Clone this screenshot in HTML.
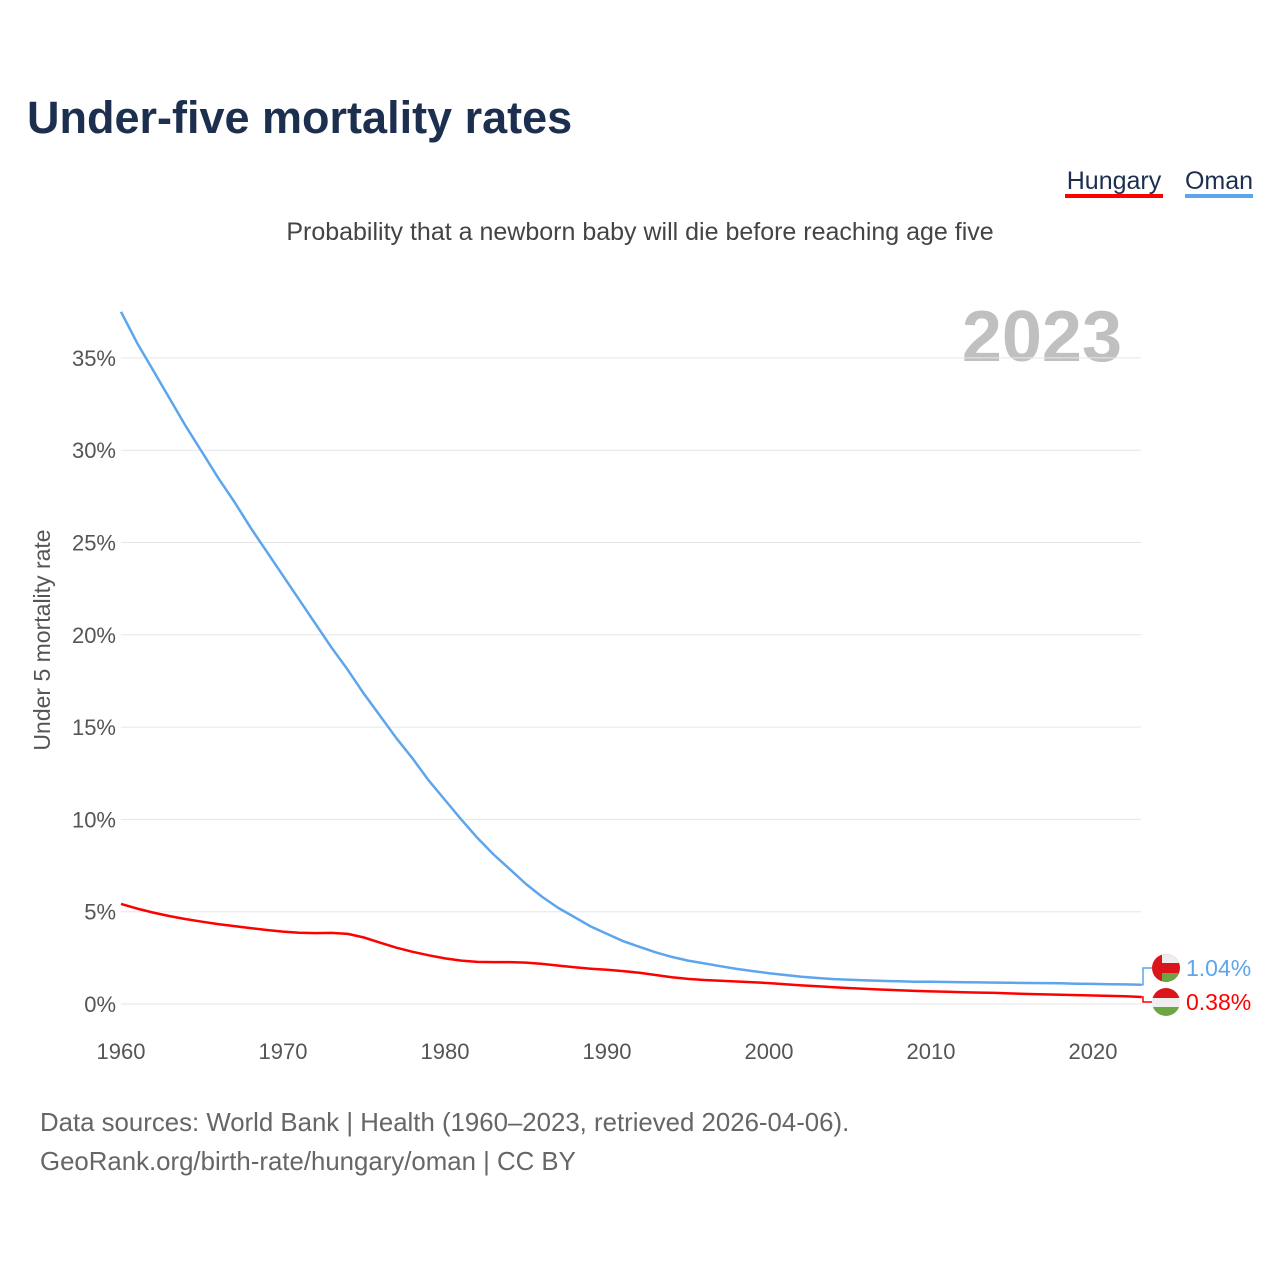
<!DOCTYPE html>
<html><head><meta charset="utf-8"><style>
body{margin:0;background:#fff;font-family:"Liberation Sans",sans-serif}
svg text{font-family:"Liberation Sans",sans-serif}
</style></head><body>
<svg id="c" width="1280" height="1280" viewBox="0 0 1280 1280">
<text x="27" y="133" font-size="45" font-weight="bold" fill="#1c2f4e">Under-five mortality rates</text>
<g><text x="1114" y="189" font-size="25" fill="#1c2f4e" text-anchor="middle">Hungary</text><rect x="1065" y="194" width="98" height="4" fill="#ff0000"/></g>
<g><text x="1219" y="189" font-size="25" fill="#1c2f4e" text-anchor="middle">Oman</text><rect x="1185" y="194" width="68" height="4" fill="#5da5ec"/></g>
<text x="640" y="240" font-size="25" fill="#444" text-anchor="middle">Probability that a newborn baby will die before reaching age five</text>
<text x="1122" y="361" font-size="72" font-weight="bold" fill="#c0c0c0" text-anchor="end">2023</text>
<text transform="translate(50,640) rotate(-90)" font-size="23" fill="#555" text-anchor="middle">Under 5 mortality rate</text>
<g id="grid"></g><g id="lines"></g><g id="ends"></g>
<text x="40" y="1131" font-size="25.8" fill="#666">Data sources: World Bank | Health (1960–2023, retrieved 2026-04-06).</text>
<text x="40" y="1170" font-size="25.8" fill="#666">GeoRank.org/birth-rate/hungary/oman | CC BY</text>
</svg>
<script>
const years=[];for(let y=1960;y<=2023;y++)years.push(y);
const oman=[37.5,35.8,34.3,32.8,31.3,29.9,28.5,27.2,25.8,24.5,23.2,21.9,20.6,19.3,18.1,16.8,15.6,14.4,13.3,12.1,11.05,10.0,9.0,8.1,7.3,6.5,5.8,5.2,4.7,4.2,3.8,3.4,3.1,2.8,2.55,2.35,2.2,2.05,1.9,1.78,1.67,1.57,1.48,1.41,1.35,1.31,1.28,1.25,1.23,1.21,1.2,1.19,1.18,1.17,1.16,1.15,1.14,1.13,1.12,1.1,1.09,1.07,1.06,1.04];
const hungary=[5.42,5.17,4.95,4.76,4.6,4.46,4.33,4.22,4.11,4.01,3.92,3.86,3.84,3.85,3.8,3.6,3.32,3.05,2.83,2.64,2.47,2.35,2.28,2.27,2.27,2.24,2.17,2.08,1.99,1.91,1.85,1.78,1.69,1.57,1.45,1.36,1.3,1.26,1.22,1.18,1.13,1.07,1.01,0.96,0.91,0.86,0.82,0.78,0.74,0.71,0.68,0.66,0.64,0.62,0.6,0.57,0.54,0.52,0.5,0.48,0.46,0.44,0.42,0.38];
const yTicks=[0,5,10,15,20,25,30,35];
const xTicks=[1960,1970,1980,1990,2000,2010,2020];
const NS="http://www.w3.org/2000/svg";
const X=y=>121+(y-1960)*16.2, Y=v=>1004-v*18.46;
function mk(t,a,p){const e=document.createElementNS(NS,t);for(const k in a)e.setAttribute(k,a[k]);p.appendChild(e);return e;}
const g=document.getElementById('grid');
yTicks.forEach(v=>{
 const l=mk('line',{x1:121,x2:1141,y1:Y(v),y2:Y(v),stroke:'#e6e6e6','stroke-width':1},g);
 
 
 const t=mk('text',{x:116,y:Y(v)+8,'font-size':22,fill:'#555','text-anchor':'end'},g);t.textContent=v+'%';
 
 
});
xTicks.forEach(v=>{
 const t=mk('text',{x:X(v),y:1059,'font-size':22,fill:'#555','text-anchor':'middle'},g);t.textContent=v;
 
 
});
const L=document.getElementById('lines');
function line(arr,col,name){
 const d=arr.map((v,i)=>(i?'L':'M')+X(years[i]).toFixed(1)+','+Y(v).toFixed(1)).join('');
 const p=mk('path',{d:d,fill:'none',stroke:col,'stroke-width':2.5,'stroke-linejoin':'round'},L);
 
 
}
line(oman,'#5da5ec','line-oman');line(hungary,'#ff0000','line-hungary');
const E=document.getElementById('ends');
function endLabel(v,ly,col,name,flag){
 const x0=X(2023),y0=Y(v);
 mk('path',{d:`M${x0},${y0}H1143V${ly}H1152`,fill:'none',stroke:col,'stroke-width':1.5},E);
 const gg=mk('g',{},E);
 
 
 flag(gg,1166,ly);
 const t=mk('text',{x:1186,y:ly+8,'font-size':23,fill:col},E);t.textContent=v.toFixed(2)+'%';
 
 
}
endLabel(oman[oman.length-1],968,'#5da5ec','oman',(p,cx,cy)=>{
 mk('clipPath',{id:'co'},p);const cp=p.lastChild;mk('circle',{cx,cy,r:14},cp);
 const q=mk('g',{'clip-path':'url(#co)'},p);
 mk('rect',{x:cx-14,y:cy-14,width:28,height:28,fill:'#db161b'},q);
 mk('rect',{x:cx-4,y:cy-14,width:18,height:9,fill:'#eee'},q);
 mk('rect',{x:cx-4,y:cy+5,width:18,height:9,fill:'#6da544'},q);
});
endLabel(hungary[hungary.length-1],1002,'#ff0000','hungary',(p,cx,cy)=>{
 mk('clipPath',{id:'ch'},p);const cp=p.lastChild;mk('circle',{cx,cy,r:14},cp);
 const q=mk('g',{'clip-path':'url(#ch)'},p);
 mk('rect',{x:cx-14,y:cy-14,width:28,height:10,fill:'#db161b'},q);
 mk('rect',{x:cx-14,y:cy-4,width:28,height:9,fill:'#eee'},q);
 mk('rect',{x:cx-14,y:cy+5,width:28,height:10,fill:'#6da544'},q);
});
</script>
</body></html>
